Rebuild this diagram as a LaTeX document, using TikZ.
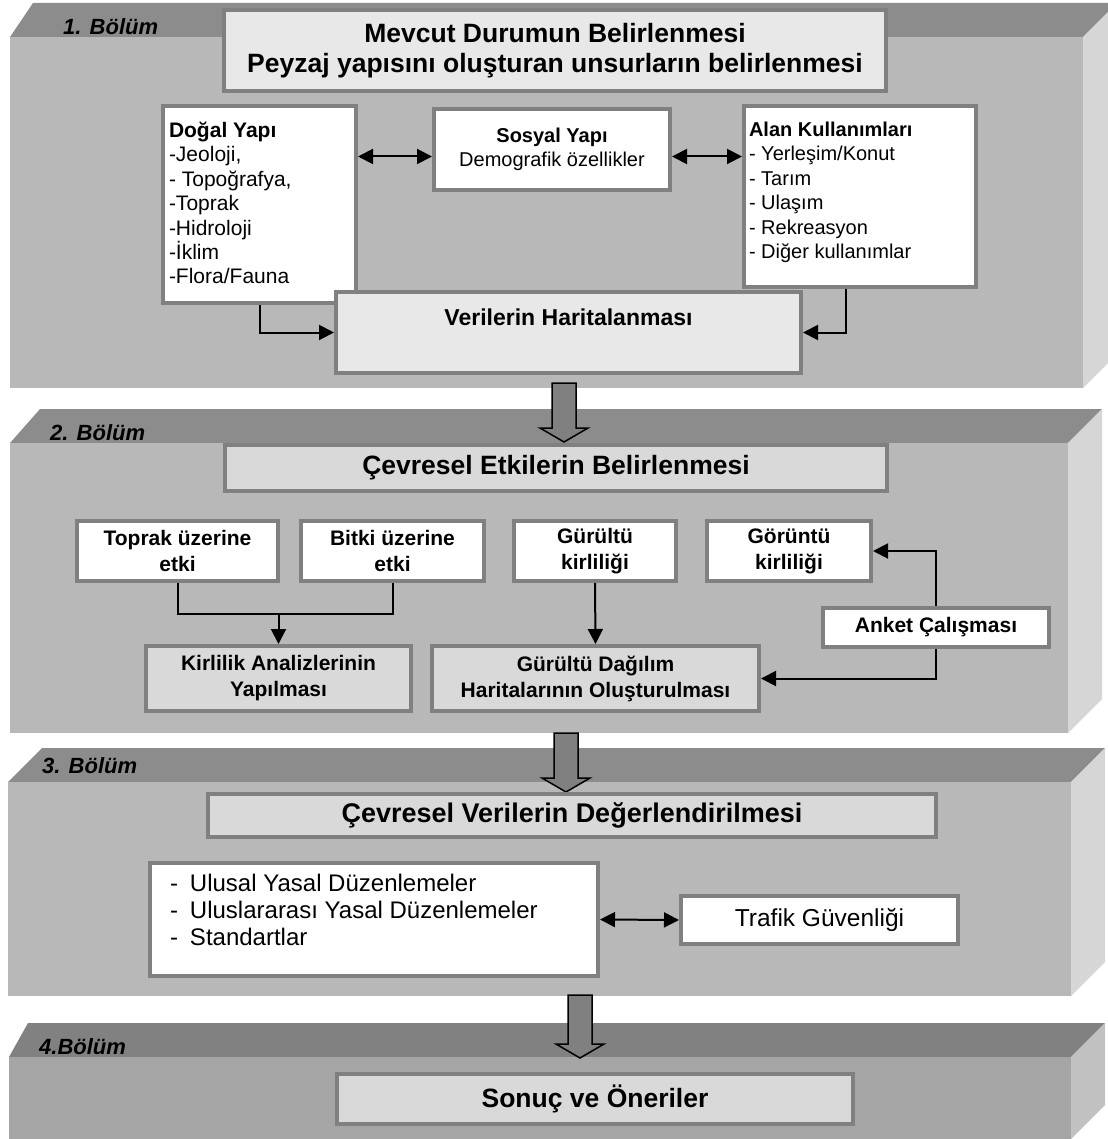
\documentclass[tikz,border=0pt]{standalone}
\usepackage{fontspec}
\setmainfont{Liberation Sans}
\definecolor{topgray}{RGB}{140,140,140}
\definecolor{frontgray}{RGB}{184,184,184}
\definecolor{sidegray}{RGB}{214,214,214}
\definecolor{bordergray}{RGB}{128,128,128}
\definecolor{lightfill}{RGB}{232,232,232}
\definecolor{midfill}{RGB}{217,217,217}
\usepackage{tikz}
\usetikzlibrary{arrows.meta, positioning, calc}
\tikzset{
    wbox/.style={rectangle, draw=bordergray, line width=4pt, fill=white, inner sep=0pt, font=\fontsize{20}{24}\selectfont},
    gbox/.style={wbox, fill=midfill, align=center, font=\fontsize{26.5}{30}\selectfont\bfseries},
    sbox/.style={wbox, align=center, font=\fontsize{21}{26}\selectfont\bfseries},
    link/.style={line width=2pt, black},
    arrow/.style={link, -{Triangle[length=15pt, width=15pt]}},
    biarrow/.style={link, {Triangle[length=15pt, width=15pt]}-{Triangle[length=15pt, width=15pt]}},
    bigarrow/.style={draw=black, line width=1.5pt, fill=bordergray},
    seclabel/.style={anchor=base west, inner sep=0pt, font=\fontsize{22}{26}\selectfont\bfseries\itshape}
}

\begin{document}
\begin{tikzpicture}[x=1pt, y=-1pt]
    \useasboundingbox (0,0) rectangle (1107,1139);

    % Section panels
    \fill[topgray] (10,37) -- (33,3) -- (1117,3) -- (1083,37) -- cycle;
    \fill[frontgray] (10,37) rectangle (1083,388);
    \fill[sidegray] (1083,37) -- (1117,3) -- (1117,354) -- (1083,388) -- cycle;

    \fill[topgray] (10,443) -- (40,409) -- (1102,409) -- (1068,443) -- cycle;
    \fill[frontgray] (10,443) rectangle (1068,733);
    \fill[sidegray] (1068,443) -- (1102,409) -- (1102,699) -- (1068,733) -- cycle;

    \fill[topgray] (8,782) -- (42,748) -- (1105,748) -- (1071,782) -- cycle;
    \fill[frontgray] (8,782) rectangle (1071,996);
    \fill[sidegray] (1071,782) -- (1105,748) -- (1105,962) -- (1071,996) -- cycle;

    \fill[topgray!92!black] (9,1057) -- (28,1023) -- (1105,1023) -- (1071,1057) -- cycle;
    \fill[frontgray!90!black] (9,1057) rectangle (1071,1139);
    \fill[sidegray!90!black] (1071,1057) -- (1105,1023) -- (1105,1105) -- (1071,1139) -- cycle;

    \node[seclabel] (lab1) at (63,35) {1. Bölüm};
    \node[seclabel] (lab2) at (50,440) {2. Bölüm};
    \node[seclabel] (lab3) at (42,773) {3. Bölüm};
    \node[seclabel] (lab4) at (39,1054) {4.Bölüm};

    % Arrows between sections
    \coordinate (a1) at (564,383);
    \coordinate (a1tip) at (564,442);
    \coordinate (a2) at (566,733);
    \coordinate (a2tip) at (566,792);
    \coordinate (a3) at (580,995);
    \coordinate (a3tip) at (580,1058);
    \foreach \s/\t in {a1/a1tip, a2/a2tip, a3/a3tip}
        \draw[bigarrow] ($(\s)+(-12,0)$) -- ($(\t)+(-12,-14)$) -- ($(\t)+(-24,-14)$) -- (\t)
            -- ($(\t)+(24,-14)$) -- ($(\t)+(12,-14)$) -- ($(\s)+(12,0)$) -- cycle;

    % Section 1
    \node[gbox, fill=lightfill, minimum width=662, minimum height=81] (mevcut) at (555,50.5)
        {Mevcut Durumun Belirlenmesi\\Peyzaj yapısını oluşturan unsurların belirlenmesi};
    \node[wbox, minimum width=193, minimum height=197] (dogal) at (259.5,204.5)
        {\parbox[c][185pt][t]{181pt}{\fontsize{21}{24.4}\selectfont\raggedright\vspace*{10pt}%
        \textbf{Doğal Yapı}\\-Jeoloji,\\- Topoğrafya,\\-Toprak\\-Hidroloji\\-İklim\\-Flora/Fauna}};
    \node[wbox, minimum width=236, minimum height=81, align=center] (sosyal) at (552,149.5)
        {\textbf{Sosyal Yapı}\\Demografik özellikler};
    \node[wbox, fill=lightfill, minimum width=465, minimum height=81] (veri) at (568.5,332.5)
        {\parbox[c][69pt][t]{453pt}{\centering\vspace*{11pt}\fontsize{23}{27}\selectfont\bfseries Verilerin Haritalanması}};
    \node[wbox, minimum width=232, minimum height=181] (alan) at (860,196.5)
        {\parbox[c][169pt][t]{222pt}{\fontsize{20}{24.5}\selectfont\raggedright\vspace*{10pt}%
        \textbf{Alan Kullanımları}\\- Yerleşim/Konut\\- Tarım\\- Ulaşım\\- Rekreasyon\\- Diğer kullanımlar}};

    \coordinate (s1) at ([yshift=-7pt]sosyal.west);
    \coordinate (s2) at ([yshift=-7pt]sosyal.east);
    \draw[biarrow] (dogal.east |- s1) -- (s1);
    \draw[biarrow] (s2) -- (alan.west |- s2);
    \draw[arrow] (dogal.south) |- (veri.west);
    \draw[arrow] ([xshift=-14pt]alan.south) |- (veri.east);

    % Section 2
    \node[gbox, minimum width=662, minimum height=46] (etki) at (556,468) {Çevresel Etkilerin Belirlenmesi};
    \node[sbox, minimum width=201, minimum height=60] (toprak) at (177.5,551) {Toprak üzerine\\etki};
    \node[sbox, minimum width=183, minimum height=60] (bitki) at (392.5,551) {Bitki üzerine\\etki};
    \node[sbox, minimum width=162, minimum height=60] (gurultu) at (595,551) {Gürültü\\kirliliği};
    \node[sbox, minimum width=164, minimum height=60] (goruntu) at (789,551) {Görüntü\\kirliliği};
    \node[sbox, minimum width=226, minimum height=39] (anket) at (936,627.5) {Anket Çalışması};
    \node[sbox, fill=midfill, minimum width=265, minimum height=65] (kirlilik) at (278.5,678.5) {Kirlilik Analizlerinin\\Yapılması};
    \node[sbox, fill=midfill, minimum width=327, minimum height=65] (dagilim) at (595.5,678.5) {Gürültü Dağılım\\Haritalarının Oluşturulması};

    \coordinate (join) at ($(toprak.south)!0.5!(kirlilik.north)$);
    \draw[link] (toprak.south) -- (toprak.south |- join) -| (bitki.south);
    \draw[arrow] (kirlilik.north |- join) -- (kirlilik.north);
    \draw[arrow] (gurultu.south) -- (dagilim.north);
    \draw[arrow] (anket.north) |- (goruntu.east);
    \draw[arrow] (anket.south) |- (dagilim.east);

    % Section 3
    \node[gbox, minimum width=728, minimum height=43, font=\fontsize{27}{30}\selectfont\bfseries] (degerlendirme) at (572,815.5) {Çevresel Verilerin Değerlendirilmesi};
    \node[wbox, minimum width=448, minimum height=113] (yasal) at (374,919.5)
        {\parbox[c][91pt][t]{408pt}{\fontsize{24}{27}\selectfont\raggedright
        \makebox[20pt][l]{-}Ulusal Yasal Düzenlemeler\\\makebox[20pt][l]{-}Uluslararası Yasal Düzenlemeler\\\makebox[20pt][l]{-}Standartlar}};
    \node[wbox, minimum width=277, minimum height=48, font=\fontsize{24.5}{27}\selectfont] (trafik) at (819.5,920) {Trafik Güvenliği};
    \draw[biarrow] (yasal.east) -- (trafik.west);

    % Section 4
    \node[gbox, minimum width=516, minimum height=50] (sonuc) at (595,1099) {Sonuç ve Öneriler};
\end{tikzpicture}
\end{document}
